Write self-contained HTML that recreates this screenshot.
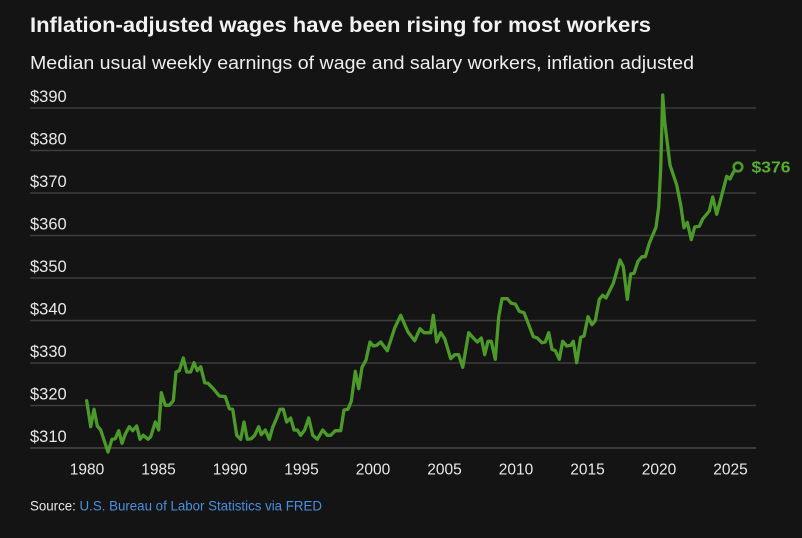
<!DOCTYPE html>
<html>
<head>
<meta charset="utf-8">
<style>
  html, body { margin:0; padding:0; background:#141414; }
  body { width:802px; height:538px; overflow:hidden; }
  svg { display:block; }
  text { font-family: "Liberation Sans", Arial, sans-serif; }
</style>
</head>
<body>
<svg width="802" height="538" viewBox="0 0 802 538" xmlns="http://www.w3.org/2000/svg">
  <rect x="0" y="0" width="802" height="538" fill="#141414"/>

  <!-- Title & subtitle -->
  <text x="30" y="32" font-size="21" font-weight="bold" fill="#f2f2f2" textLength="621" lengthAdjust="spacingAndGlyphs">Inflation-adjusted wages have been rising for most workers</text>
  <text x="30" y="69" font-size="18.5" fill="#eeeeee" textLength="664" lengthAdjust="spacingAndGlyphs">Median usual weekly earnings of wage and salary workers, inflation adjusted</text>

  <!-- Gridlines -->
  <g stroke="#3d3d3d" stroke-width="1.5">
    <line x1="30" y1="108" x2="756" y2="108"/>
    <line x1="30" y1="150.5" x2="756" y2="150.5"/>
    <line x1="30" y1="193" x2="756" y2="193"/>
    <line x1="30" y1="235.5" x2="756" y2="235.5"/>
    <line x1="30" y1="278" x2="756" y2="278"/>
    <line x1="30" y1="320.5" x2="756" y2="320.5"/>
    <line x1="30" y1="363" x2="756" y2="363"/>
    <line x1="30" y1="405.5" x2="756" y2="405.5"/>
  </g>
  <line x1="30" y1="448" x2="756" y2="448" stroke="#4a4a4a" stroke-width="1.6"/>

  <!-- Y labels -->
  <g font-size="16.5" fill="#e8e8e8">
    <text x="30" y="102">$390</text>
    <text x="30" y="144.5">$380</text>
    <text x="30" y="187">$370</text>
    <text x="30" y="229.5">$360</text>
    <text x="30" y="272">$350</text>
    <text x="30" y="314.5">$340</text>
    <text x="30" y="357">$330</text>
    <text x="30" y="399.5">$320</text>
    <text x="30" y="442">$310</text>
  </g>

  <!-- X labels -->
  <g font-size="15.5" fill="#e8e8e8" text-anchor="middle">
    <text x="87" y="474.5">1980</text>
    <text x="158.5" y="474.5">1985</text>
    <text x="230" y="474.5">1990</text>
    <text x="301.5" y="474.5">1995</text>
    <text x="373" y="474.5">2000</text>
    <text x="444.5" y="474.5">2005</text>
    <text x="516" y="474.5">2010</text>
    <text x="587.5" y="474.5">2015</text>
    <text x="659" y="474.5">2020</text>
    <text x="730.5" y="474.5">2025</text>
  </g>

  <!-- Series -->
  <polyline fill="none" stroke="#4c9a2a" stroke-width="3.3" stroke-linejoin="round" stroke-linecap="round" points="
86.7,400.7 90.7,426.7 94,409.3 97.3,426 100.7,430 104,440 108,452 112,439.3 115.3,438.7 118.7,430.7
122,443.3 125.3,434 129.3,426.7 132.7,430.7 136.7,426 140,439.3 143.3,435.3 148,439.3 150.7,436.7 155.3,422
158.7,430 161.3,392.7 165.3,405.3 169.3,405.3 173.3,400.7 176,372 179.3,370.7 183.3,358 186.7,372 190.7,372
194,362.7 197.3,370.7 200.7,366.7 204.7,382.7 208,383.3 213.3,388.7 219.3,396 225.3,396.7 229.3,408.7 232.7,409.3
236.7,435.3 240.7,439.3 244,422 247.3,439.3 251.3,438.7 254.7,435.3 258.7,426.7 261.3,434.7 265.3,430 269.3,439.3
272.7,427.3 276.7,418 280,409.3 283.3,409.3 286.7,422 290.7,418 294,430 297.3,430 300.7,435.3 304.7,430
308.7,418 312.7,435.3 317.3,439.3 322.7,430 327.3,435.3 330.7,435.3 335.3,430.7 340.7,430.7 344,410 348,409.3
351.3,401.3 355.3,371.3 358.7,388.7 362,367.3 366,360 370,342 373.3,346 376.7,345.3 380.7,342 387.3,350.7
394.7,328 400.7,315.3 408,332 414.7,340.7 420,328.7 424,332.7 430.7,332.7 433.3,315.3 436.7,342 440.7,332.7
444.7,338.7 450.7,358.7 454.7,354.7 458.7,354.7 462.7,367.3 468.7,332.7 473.3,338 477.3,342 481.3,338 484.7,354.7
488,341.3 491.3,341.3 495.3,359.3 498.7,316.7 502,298.7 507.3,298.7 511.3,303.3 515.3,304 519.3,311.3 524,312.7
528.7,324.7 533.3,336.7 537.3,338 542,342.7 545.3,342 548.7,332.7 552,349.3 555.3,350.7 559.3,359.3 562.7,341.3
566.7,346 570.7,345.3 573.3,341.3 576.7,362.7 580.7,337.3 584,336 588,316.7 592,324.7 595.3,320.7 599.3,299.3
602.7,295.3 606,298 610,290 613.3,283.3 620,260 623.3,266.7 627.3,299.3 630.7,274 634,273.3 638,261.3
642,256.7 645.3,256.7 649.3,243.3 656,227.3 658.7,207 660.7,168.3 662.7,95 664.7,121.7 670,165 676.7,185
680.7,205 684,227.7 687.3,222.3 691.3,239.7 694.7,227 699.3,226.3 702.7,219 706,215 709.3,211 712.7,197
716.7,214.3 721.3,197 726.7,176.3 730,179 733.3,172.3 738,167"/>
  <circle cx="738" cy="167" r="4.3" fill="#141414" stroke="#4c9a2a" stroke-width="2.6"/>
  <text x="751.5" y="172.5" font-size="16" font-weight="bold" fill="#58ad36" textLength="39" lengthAdjust="spacingAndGlyphs">$376</text>

  <!-- Source -->
  <text x="30" y="510.5" font-size="13.5" textLength="292" lengthAdjust="spacingAndGlyphs"><tspan fill="#e8e8e8">Source: </tspan><tspan fill="#4b8fe0">U.S. Bureau of Labor Statistics via FRED</tspan></text>
</svg>
</body>
</html>
